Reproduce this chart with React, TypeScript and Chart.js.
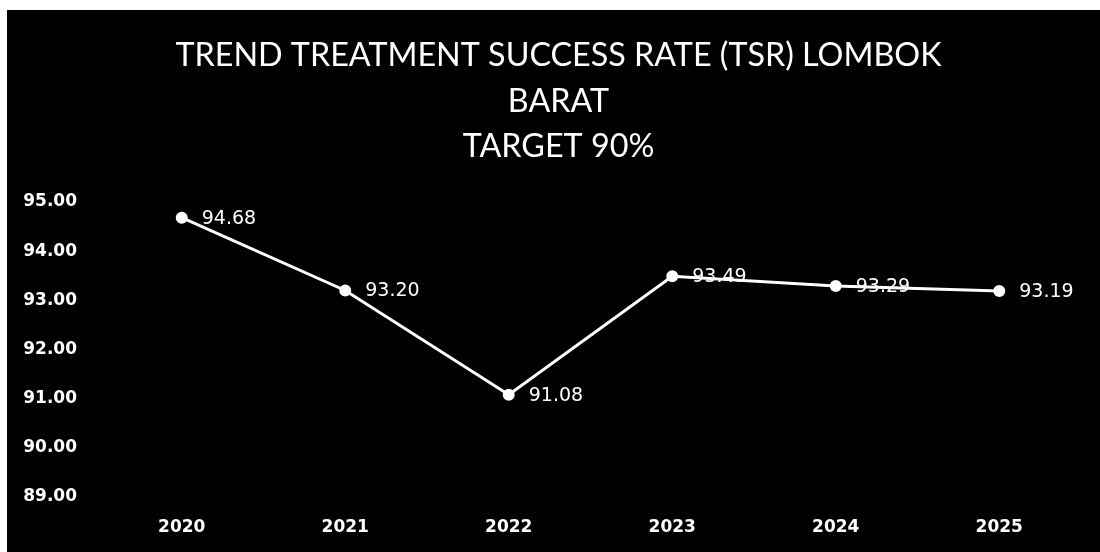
import React, { useEffect, useRef } from "react";
import { Chart, registerables } from "chart.js";

Chart.register(...registerables);

const categories = ["2020", "2021", "2022", "2023", "2024", "2025"];
const tsrValues = [94.68, 93.2, 91.08, 93.49, 93.29, 93.19];
const titleLines = ["TREND TREATMENT SUCCESS RATE (TSR) LOMBOK", "BARAT", "TARGET 90%"];
const yMin = 89;
const yMax = 95;

const TITLE_FONT = "Lato, 'Open Sans', sans-serif";
const AXIS_FONT = "'DejaVu Sans', sans-serif";

const titlePlugin = {
  id: "centeredTitle",
  afterDraw(chart: any) {
    const ctx = chart.ctx;
    ctx.save();
    ctx.fillStyle = "#ffffff";
    ctx.font = `32.3px ${TITLE_FONT}`;
    ctx.textAlign = "center";
    ctx.textBaseline = "middle";
    const cx = 551.5;
    titleLines.forEach((line, i) => {
      ctx.fillText(line, cx, 46 + i * 45.5);
    });
    ctx.restore();
  },
};

const dataLabelPlugin = {
  id: "dataLabels",
  afterDatasetsDraw(chart: any) {
    const ctx = chart.ctx;
    const meta = chart.getDatasetMeta(0);
    ctx.save();
    ctx.fillStyle = "#ffffff";
    ctx.font = `19px ${AXIS_FONT}`;
    ctx.textAlign = "left";
    ctx.textBaseline = "middle";
    meta.data.forEach((pt: any, i: number) => {
      const v = chart.data.datasets[0].data[i] as number;
      ctx.fillText(v.toFixed(2), pt.x + 20, pt.y + 1);
    });
    ctx.restore();
  },
};

export default function App() {
  const ref = useRef<HTMLCanvasElement | null>(null);
  useEffect(() => {
    if (!ref.current) return;
    const chart = new Chart(ref.current, {
      type: "line",
      data: {
        labels: categories,
        datasets: [
          {
            data: tsrValues,
            borderColor: "#ffffff",
            backgroundColor: "#ffffff",
            borderWidth: 3,
            pointRadius: 4.5,
            pointBackgroundColor: "#ffffff",
            pointBorderColor: "#ffffff",
            tension: 0,
          },
        ],
      },
      options: {
        animation: false,
        responsive: false,
        maintainAspectRatio: false,
        layout: { padding: { left: 0, right: 19, top: 192, bottom: 0 } },
        plugins: {
          legend: { display: false },
          tooltip: { enabled: false },
          title: { display: false },
        },
        scales: {
          x: {
            offset: true,
            grid: { display: false, drawTicks: false },
            border: { display: false },
            ticks: {
              color: "#ffffff",
              font: { family: AXIS_FONT, size: 17, weight: "bold" },
              padding: 20,
            },
            afterFit: (s: any) => {
              s.height = 55;
            },
          },
          y: {
            min: yMin,
            max: yMax,
            grid: { display: false, drawTicks: false },
            border: { display: false },
            ticks: {
              stepSize: 1,
              color: "#ffffff",
              font: { family: AXIS_FONT, size: 17, weight: "bold" },
              padding: 23,
              callback: (v: any) => Number(v).toFixed(2),
            },
            afterFit: (s: any) => {
              s.width = 93;
            },
          },
        },
      },
      plugins: [dataLabelPlugin, titlePlugin],
    });
    return () => chart.destroy();
  }, []);

  return (
    <div style={{ position: "fixed", left: 0, top: 0, width: 1100, height: 552, background: "#ffffff" }}>
      <div style={{ position: "absolute", left: 7, top: 10, width: 1093, height: 542, background: "#000000" }}>
        <canvas ref={ref} width={1093} height={542} style={{ display: "block" }} />
      </div>
    </div>
  );
}
